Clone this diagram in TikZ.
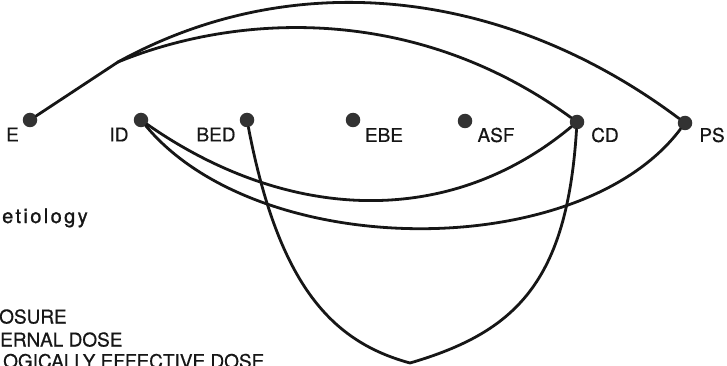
\documentclass[tikz,border=0pt]{standalone}
\usepackage{fontspec}
\setmainfont{TeX Gyre Heros}[FakeBold=0.6]
\usepackage{xcolor}
\usetikzlibrary{math}
\definecolor{myink}{RGB}{22,22,22}
\definecolor{mydot}{RGB}{50,50,50}

\tikzset{
  dosedot/.style={circle,fill=mydot,inner sep=0pt,minimum size=14.5pt},
  lbl/.style={inner sep=0pt,font=\fontsize{19}{21}\selectfont,text=myink},
  link/.style={line width=2.8pt,color=myink,line cap=round,line join=round},
  legtext/.style={inner sep=0pt,anchor=base west,font=\fontsize{19}{21}\selectfont,text=myink}
}

\begin{document}
\begin{tikzpicture}[x=1pt,y=-1pt]
\useasboundingbox (0,0) rectangle (727,366);

% dose points
\node[dosedot] (E)   at (30,120)  {};
\node[dosedot] (ID)  at (141,120) {};
\node[dosedot] (BED) at (247,120) {};
\node[dosedot] (EBE) at (353,120) {};
\node[dosedot] (ASF) at (465,121) {};
\node[dosedot] (CD)  at (577,122) {};
\node[dosedot] (PS)  at (685,123) {};

\coordinate (J) at (118,62);
\coordinate (Bot) at (410,363);

\node[lbl] (E-l)   at (12.5,134.5) {E};
\node[lbl] (ID-l)  at (119,134.5)  {ID};
\node[lbl] (BED-l) at (216,134.5)  {BED};
\node[lbl] (EBE-l) at (384,135)    {EBE};
\node[lbl] (ASF-l) at (496,135)    {ASF};
\node[lbl] (CD-l)  at (605,135)    {CD};
\node[lbl] (PS-l)  at (712,135)    {PS};

\draw[link] (E) -- (J);
\draw[link] (J) .. controls (298,-37) and (509,-9) .. (PS);
\draw[link] (J) .. controls (238,13) and (415,4) .. (CD);
\draw[link] (ID) .. controls (284,220) and (446,231) .. (CD);
\draw[link] (ID) .. controls (259,262) and (580,263) .. (PS);
\draw[link] (BED) .. controls (279,287) and (333,342) .. (Bot)
            .. controls (516,332) and (567,282) .. (CD);

\node[legtext,font=\fontsize{20}{22}\selectfont\addfontfeature{LetterSpace=12,FakeBold=1.2}] (etio) at (2,223) {etiology};
\node[legtext] (exp) at (-1,323.5) {OSURE};
\node[legtext] (int) at (0,346.5) {ERNAL DOSE};
\node[legtext] (bio) at (3,368) {OGICALLY EFFECTIVE DOSE};

\end{tikzpicture}
\end{document}
